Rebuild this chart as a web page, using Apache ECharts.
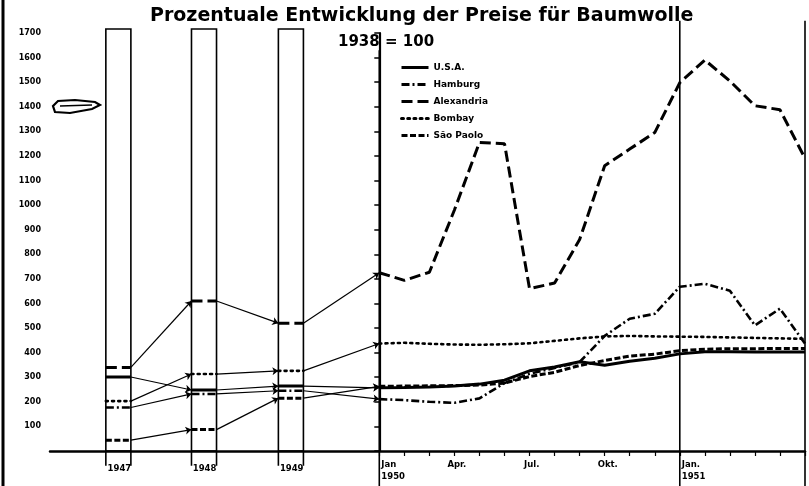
<!DOCTYPE html>
<html><head><meta charset="utf-8">
<script src="https://cdn.jsdelivr.net/npm/echarts@6/dist/echarts.min.js"></script>
<style>html,body{margin:0;padding:0;background:#fff}#c{width:809px;height:486px}</style>
</head><body><div id="c"></div>
<script>
// ---------------- DATA ----------------
const years = ['1947', '1948', '1949'];
const months = ['Jan 1950','Feb','Mär','Apr','Mai','Jun','Jul','Aug','Sep','Okt','Nov','Dez',
                'Jan 1951','Feb','Mär','Apr','Mai','Jun'];
const seriesNames = ['U.S.A.', 'Hamburg', 'Alexandria', 'Bombay', 'São Paolo'];

const usaAnnual  = [301, 248, 264];
const hamAnnual  = [177, 232, 245];
const alexAnnual = [340, 610, 520];
const bomAnnual  = [203, 313, 326];
const saoAnnual  = [44, 87, 215];

const usaMonthly  = [257, 258, 260, 264, 272, 288, 326, 342, 363, 349, 365, 377, 395, 404, 404, 403, 403, 403];
const hamMonthly  = [211, 207, 200, 196, 214, 276, 314, 338, 362, 468, 538, 558, 668, 680, 652, 511, 579, 437];
const alexMonthly = [725, 694, 727, 980, 1255, 1250, 660, 683, 860, 1160, 1228, 1295, 1498, 1590, 1505, 1404, 1388, 1190];
const bomMonthly  = [437, 440, 436, 433, 432, 434, 438, 448, 458, 466, 468, 466, 465, 464, 462, 460, 458, 456];
const saoMonthly  = [263, 264, 265, 266, 268, 276, 303, 320, 348, 368, 386, 394, 408, 414, 416, 416, 417, 417];

const yTickLabels = [100,200,300,400,500,600,700,800,900,1000,1100,1200,1300,1400,1500,1600,1700];
const xTickLabels = ['1947', '1948', '1949', 'Jan\n1950', 'Apr.', 'Jul.', 'Okt.', 'Jan.\n1951'];

// ---------------- LAYOUT (positions on the x scale, in months from Jan 1950) ----------------
const barLeft = [-10.92, -7.5, -4.03];
const barWidth = 1;
const xLabelPos = [-10.85, -7.45, -3.97, 0.08, 2.72, 5.78, 8.72, 12.08];
const monthTickPos = months.map((m, i) => i);

// ---------------- BUILD ----------------
function styledData(annual, monthly) {
  const out = [];
  annual.forEach((v, i) => {
    out.push([barLeft[i], v], [barLeft[i] + barWidth, v], [barLeft[i] + barWidth, '-']);
  });
  monthly.forEach((v, i) => out.push([i, v]));
  return out;
}
function connectorSegments(annual, monthly) {
  const segs = [];
  for (let i = 0; i < annual.length; i++) {
    const from = [barLeft[i] + barWidth, annual[i]];
    const to = i + 1 < annual.length ? [barLeft[i + 1], annual[i + 1]] : [0, monthly[0]];
    segs.push({ coords: [from, to] });
  }
  return segs;
}
const annuals = [usaAnnual, hamAnnual, alexAnnual, bomAnnual, saoAnnual];
const monthlies = [usaMonthly, hamMonthly, alexMonthly, bomMonthly, saoMonthly];
const styles = [
  { width: 3, type: 'solid' },
  { width: 2.6, type: [8, 3, 2, 3] },
  { width: 3, type: [11, 5] },
  { width: 2.6, type: [2, 4.2] },
  { width: 3, type: [6, 2.5] }
];

const series = [];
const frameItems = [];
barLeft.forEach(x => frameItems.push({ kind: 'bar', x0: x, x1: x + barWidth, top: 1716, bottom: -60 }));
frameItems.push({ kind: 'v', x: 0, top: 1630, bottom: -150 });
frameItems.push({ kind: 'v', x: 12, top: 1750, bottom: -150 });
frameItems.push({ kind: 'v', x: 17, top: 1750, bottom: -150 });

series.push({
  type: 'custom', name: 'frame', silent: true, clip: false, z: 1,
  data: frameItems.map(d => [d.kind === 'bar' ? d.x0 : d.x, 0]),
  renderItem: function (params, api) {
    const d = frameItems[params.dataIndex];
    const st = { stroke: '#000', lineWidth: 1.6, fill: 'none' };
    if (d.kind === 'bar') {
      const a = api.coord([d.x0, d.top]);
      const b = api.coord([d.x1, 0]);
      const c = api.coord([d.x0, d.bottom]);
      return { type: 'group', children: [
        { type: 'rect', shape: { x: a[0], y: a[1], width: b[0] - a[0], height: b[1] - a[1] }, style: st },
        { type: 'line', shape: { x1: a[0], y1: b[1], x2: a[0], y2: c[1] }, style: st },
        { type: 'line', shape: { x1: b[0], y1: b[1], x2: b[0], y2: c[1] }, style: st }
      ]};
    }
    const a = api.coord([d.x, d.top]);
    const b = api.coord([d.x, d.bottom]);
    return { type: 'line', shape: { x1: a[0], y1: a[1], x2: b[0], y2: b[1] }, style: st };
  }
});

seriesNames.forEach((name, k) => {
  series.push({
    type: 'lines', name: name + ' ', coordinateSystem: 'cartesian2d', silent: true, z: 3,
    symbol: ['none', 'arrow'], symbolSize: 6,
    data: connectorSegments(annuals[k], monthlies[k]),
    lineStyle: { color: '#000', width: 1.2, type: 'solid', opacity: 1 }
  });
  series.push({
    type: 'line', name: name, symbol: 'none', showSymbol: false, silent: true, z: 4,
    data: styledData(annuals[k], monthlies[k]),
    lineStyle: { color: '#000', width: styles[k].width, type: styles[k].type, cap: k === 3 ? 'round' : 'butt' },
    itemStyle: { color: '#000' }
  });
});

const chart = echarts.init(document.getElementById('c'), null, { renderer: 'canvas' });
chart.setOption({
  animation: false,
  backgroundColor: '#fff',
  title: [
    { text: 'Prozentuale Entwicklung der Preise für Baumwolle', left: 145, top: 2,
      textStyle: { fontFamily: 'DejaVu Sans', fontWeight: 'bold', fontSize: 19, color: '#000' } },
    { text: '1938 = 100', left: 333, top: 30,
      textStyle: { fontFamily: 'DejaVu Sans', fontWeight: 'bold', fontSize: 15, color: '#000' } }
  ],
  legend: {
    data: seriesNames, orient: 'vertical', left: 395, top: 57,
    itemWidth: 27, itemHeight: 11, itemGap: 6,
    itemStyle: { opacity: 0 },
    lineStyle: { width: 3 },
    textStyle: { fontFamily: 'DejaVu Sans', fontWeight: 'bold', fontSize: 9, color: '#000', lineHeight: 11 }
  },
  grid: { left: 50, right: 4, top: 33, bottom: 35 },
  xAxis: {
    type: 'value', min: -13.15, max: 17,
    axisLine: { onZero: false, lineStyle: { color: '#000', width: 2.5 } },
    axisTick: { customValues: monthTickPos, length: 5, lineStyle: { color: '#000', width: 1.2 } },
    axisLabel: {
      customValues: xLabelPos, align: 'left', margin: 8,
      fontFamily: 'DejaVu Sans', fontWeight: 'bold', fontSize: 8.5, lineHeight: 12, color: '#000',
      formatter: function (v) {
        let best = 0, bd = 1e9;
        xLabelPos.forEach((p, i) => { const dd = Math.abs(p - v); if (dd < bd) { bd = dd; best = i; } });
        return best < years.length ? '{yr|' + xTickLabels[best] + '}' : xTickLabels[best];
      },
      rich: { yr: { padding: [7, 0, 0, 0], fontFamily: 'DejaVu Sans', fontWeight: 'bold', fontSize: 8.5, color: '#000' } }
    },
    splitLine: { show: false }
  },
  yAxis: {
    type: 'value', min: 0, max: 1700, interval: 100,
    axisLine: { show: true, lineStyle: { color: '#000', width: 2.2 } },
    axisTick: { show: true, length: 5, lineStyle: { color: '#000', width: 1.5 } },
    axisLabel: {
      margin: 9, fontFamily: 'DejaVu Sans', fontWeight: 'bold', fontSize: 8, color: '#000',
      formatter: function (v) { return yTickLabels.indexOf(v) >= 0 ? String(v) : ''; }
    },
    splitLine: { show: false }
  },
  graphic: [
    { type: 'line', shape: { x1: 3, y1: 0, x2: 3, y2: 486 }, style: { stroke: '#000', lineWidth: 3 } },
    { type: 'polygon', smooth: 0.6,
      shape: { points: [[53,106],[58,101],[75,100],[95,102],[100,105],[92,109],[70,113],[55,112]] },
      style: { fill: 'none', stroke: '#000', lineWidth: 2.2 } },
    { type: 'line', shape: { x1: 60, y1: 106, x2: 92, y2: 105 }, style: { stroke: '#000', lineWidth: 1.5 } }
  ],
  series: series
});
</script>
</body></html>
